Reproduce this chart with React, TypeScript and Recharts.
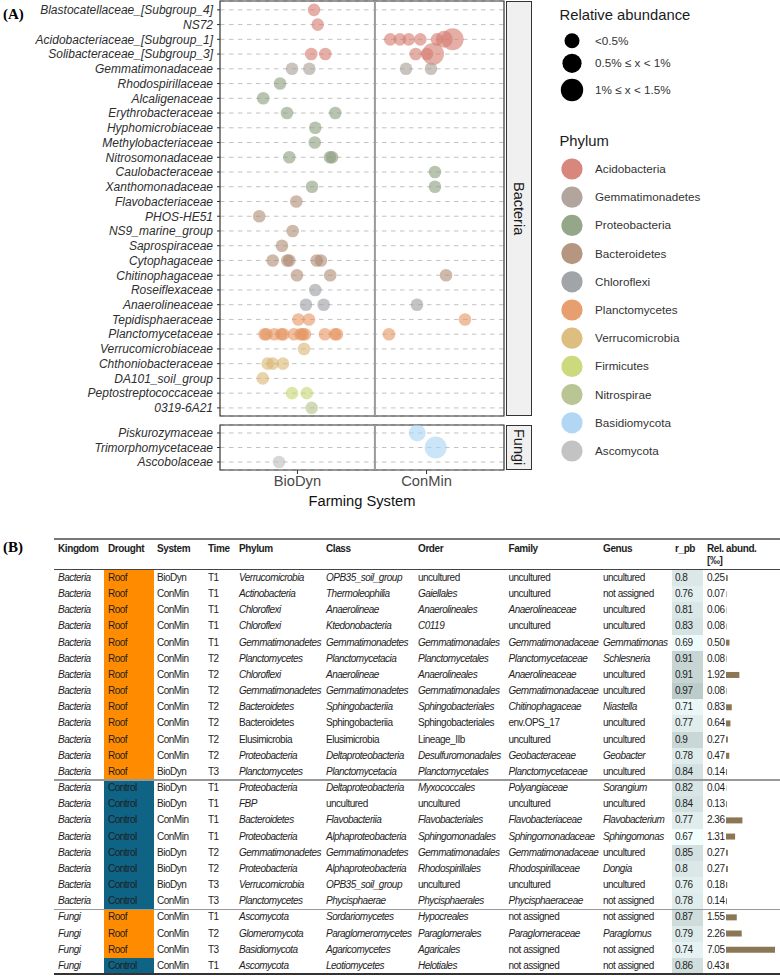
import React from 'react';
import {
  ScatterChart,
  Scatter,
  XAxis,
  YAxis,
  CartesianGrid,
  ReferenceLine,
  ReferenceArea,
  BarChart,
  Bar,
} from 'recharts';

// ---- panel A data ----
const phyla = ['Acidobacteria', 'Gemmatimonadetes', 'Proteobacteria', 'Bacteroidetes', 'Chloroflexi', 'Planctomycetes', 'Verrucomicrobia', 'Firmicutes', 'Nitrospirae', 'Basidiomycota', 'Ascomycota'];
const phylumColors = ['#d47a6e', '#a89b93', '#8a9d7c', '#ad8b73', '#979ba1', '#e4955f', '#d9b672', '#c7d66f', '#b2bf8a', '#a8d3f3', '#bdbdbd'];
const sizeLabels = ['<0.5%', '0.5% \u2264 x < 1%', '1% \u2264 x < 1.5%'];
const systems = ['BioDyn', 'ConMin'];

const bacteriaFamilies = [
  'Blastocatellaceae_[Subgroup_4]', 'NS72', 'Acidobacteriaceae_[Subgroup_1]', 'Solibacteraceae_[Subgroup_3]',
  'Gemmatimonadaceae', 'Rhodospirillaceae', 'Alcaligenaceae', 'Erythrobacteraceae', 'Hyphomicrobiaceae',
  'Methylobacteriaceae', 'Nitrosomonadaceae', 'Caulobacteraceae', 'Xanthomonadaceae', 'Flavobacteriaceae',
  'PHOS-HE51', 'NS9_marine_group', 'Saprospiraceae', 'Cytophagaceae', 'Chitinophagaceae', 'Roseiflexaceae',
  'Anaerolineaceae', 'Tepidisphaeraceae', 'Planctomycetaceae', 'Verrucomicrobiaceae', 'Chthoniobacteraceae',
  'DA101_soil_group', 'Peptostreptococcaceae', '0319-6A21',
];
const bacteriaPhylum = [0, 0, 0, 0, 1, 2, 2, 2, 2, 2, 2, 2, 2, 3, 3, 3, 3, 3, 3, 4, 4, 5, 5, 6, 6, 6, 7, 8];
// jittered position on the farming-system axis (1 = BioDyn, 2 = ConMin)
const bacteriaX = [
  [1.128], [1.157], [1.719, 1.794, 1.862, 1.952, 2.081, 2.137, 2.202], [1.107, 1.216, 1.916, 2.003, 2.05],
  [0.958, 1.092, 1.841, 2.034], [0.865], [0.735], [0.919, 1.293], [1.138], [1.134], [0.937, 1.252, 1.268],
  [2.065], [1.113, 2.065], [0.991], [0.704], [0.963], [0.88], [0.808, 0.921, 0.937, 1.149, 1.182],
  [0.996, 1.254, 2.151], [1.138], [1.066, 1.203, 1.926], [1.007, 1.089, 2.298],
  [0.745, 0.76, 0.821, 0.875, 0.89, 0.973, 1.025, 1.041, 1.058, 1.213, 1.291, 1.306, 1.709],
  [1.051], [0.769, 0.808, 0.888], [0.731], [0.958, 1.072], [1.11],
];
// abundance class: 0 <0.5%, 1 0.5-1%, 2 1-1.5%
const bacteriaSize = [
  [0], [0], [0, 0, 0, 0, 0, 1, 2], [0, 0, 0, 0, 2],
  [0, 0, 0, 0], [0], [0], [0, 0], [0], [0], [0, 0, 0],
  [0], [0, 0], [0], [0], [0], [0], [0, 0, 0, 0, 0],
  [0, 0, 0], [0], [0, 0, 0], [0, 0, 0],
  [0, 0, 0, 0, 0, 0, 0, 0, 0, 0, 0, 0, 0],
  [0], [0, 0, 0], [0], [0, 0], [0],
];

const fungiFamilies = ['Piskurozymaceae', 'Trimorphomycetaceae', 'Ascobolaceae'];
const fungiPhylum = [9, 9, 10];
const fungiX = [[1.928], [2.071], [0.857]];
const fungiSize = [[1], [2], [0]];

// ---- panel B data ----
const kingdom = ['Bacteria', 'Bacteria', 'Bacteria', 'Bacteria', 'Bacteria', 'Bacteria', 'Bacteria', 'Bacteria', 'Bacteria', 'Bacteria', 'Bacteria', 'Bacteria', 'Bacteria', 'Bacteria', 'Bacteria', 'Bacteria', 'Bacteria', 'Bacteria', 'Bacteria', 'Bacteria', 'Bacteria', 'Fungi', 'Fungi', 'Fungi', 'Fungi'];
const drought = ['Roof', 'Roof', 'Roof', 'Roof', 'Roof', 'Roof', 'Roof', 'Roof', 'Roof', 'Roof', 'Roof', 'Roof', 'Roof', 'Control', 'Control', 'Control', 'Control', 'Control', 'Control', 'Control', 'Control', 'Roof', 'Roof', 'Roof', 'Control'];
const system = ['BioDyn', 'ConMin', 'ConMin', 'ConMin', 'ConMin', 'ConMin', 'ConMin', 'ConMin', 'ConMin', 'ConMin', 'ConMin', 'ConMin', 'BioDyn', 'BioDyn', 'BioDyn', 'ConMin', 'ConMin', 'BioDyn', 'BioDyn', 'BioDyn', 'ConMin', 'ConMin', 'ConMin', 'ConMin', 'ConMin'];
const time = ['T1', 'T1', 'T1', 'T1', 'T1', 'T2', 'T2', 'T2', 'T2', 'T2', 'T2', 'T2', 'T3', 'T1', 'T1', 'T1', 'T1', 'T2', 'T2', 'T3', 'T3', 'T1', 'T2', 'T3', 'T1'];
const phylum = ['Verrucomicrobia', 'Actinobacteria', 'Chloroflexi', 'Chloroflexi', 'Gemmatimonadetes', 'Planctomycetes', 'Chloroflexi', 'Gemmatimonadetes', 'Bacteroidetes', 'Bacteroidetes', 'Elusimicrobia', 'Proteobacteria', 'Planctomycetes', 'Proteobacteria', 'FBP', 'Bacteroidetes', 'Proteobacteria', 'Gemmatimonadetes', 'Proteobacteria', 'Verrucomicrobia', 'Planctomycetes', 'Ascomycota', 'Glomeromycota', 'Basidiomycota', 'Ascomycota'];
const taxClass = ['OPB35_soil_group', 'Thermoleophilia', 'Anaerolineae', 'Ktedonobacteria', 'Gemmatimonadetes', 'Planctomycetacia', 'Anaerolineae', 'Gemmatimonadetes', 'Sphingobacteriia', 'Sphingobacteriia', 'Elusimicrobia', 'Deltaproteobacteria', 'Planctomycetacia', 'Deltaproteobacteria', 'uncultured', 'Flavobacteriia', 'Alphaproteobacteria', 'Gemmatimonadetes', 'Alphaproteobacteria', 'OPB35_soil_group', 'Phycisphaerae', 'Sordariomycetes', 'Paraglomeromycetes', 'Agaricomycetes', 'Leotiomycetes'];
const order = ['uncultured', 'Gaiellales', 'Anaerolineales', 'C0119', 'Gemmatimonadales', 'Planctomycetales', 'Anaerolineales', 'Gemmatimonadales', 'Sphingobacteriales', 'Sphingobacteriales', 'Lineage_IIb', 'Desulfuromonadales', 'Planctomycetales', 'Myxococcales', 'uncultured', 'Flavobacteriales', 'Sphingomonadales', 'Gemmatimonadales', 'Rhodospirillales', 'uncultured', 'Phycisphaerales', 'Hypocreales', 'Paraglomerales', 'Agaricales', 'Helotiales'];
const family = ['uncultured', 'uncultured', 'Anaerolineaceae', 'uncultured', 'Gemmatimonadaceae', 'Planctomycetaceae', 'Anaerolineaceae', 'Gemmatimonadaceae', 'Chitinophagaceae', 'env.OPS_17', 'uncultured', 'Geobacteraceae', 'Planctomycetaceae', 'Polyangiaceae', 'uncultured', 'Flavobacteriaceae', 'Sphingomonadaceae', 'Gemmatimonadaceae', 'Rhodospirillaceae', 'uncultured', 'Phycisphaeraceae', 'not assigned', 'Paraglomeraceae', 'not assigned', 'not assigned'];
const genus = ['uncultured', 'not assigned', 'uncultured', 'uncultured', 'Gemmatimonas', 'Schlesneria', 'uncultured', 'uncultured', 'Niastella', 'uncultured', 'uncultured', 'Geobacter', 'uncultured', 'Sorangium', 'uncultured', 'Flavobacterium', 'Sphingomonas', 'uncultured', 'Dongia', 'uncultured', 'not assigned', 'not assigned', 'Paraglomus', 'not assigned', 'not assigned'];
const rpb = [0.8, 0.76, 0.81, 0.83, 0.69, 0.91, 0.91, 0.97, 0.71, 0.77, 0.9, 0.78, 0.84, 0.82, 0.84, 0.77, 0.67, 0.85, 0.8, 0.76, 0.78, 0.87, 0.79, 0.74, 0.86];
const relAbund = [0.25, 0.07, 0.06, 0.08, 0.5, 0.08, 1.92, 0.08, 0.83, 0.64, 0.27, 0.47, 0.14, 0.04, 0.13, 2.36, 1.31, 0.27, 0.27, 0.18, 0.14, 1.55, 2.26, 7.05, 0.43];
const plainRows = [9, 10];

const headers = ['Kingdom', 'Drought', 'System', 'Time', 'Phylum', 'Class', 'Order', 'Family', 'Genus', 'r_pb', 'Rel. abund.'];
const colX = [58, 108, 157, 208, 239, 326, 418, 508.5, 603, 675, 707];

const radii = [6.3, 8.5, 11];
const legendRadii = [7.5, 9.6, 11.2];

const toPoints = (xs: number[][], sizes: number[][], ph: number[]) =>
  xs.flatMap((row, i) => row.map((x, j) => ({ x, y: i, s: sizes[i][j], p: ph[i] })));

const bacteriaPoints = toPoints(bacteriaX, bacteriaSize, bacteriaPhylum);
const fungiPoints = toPoints(fungiX, fungiSize, fungiPhylum);

const Dot = (props: any) => {
  const { cx, cy, payload } = props;
  return <circle cx={cx} cy={cy} r={radii[payload.s]} fill={phylumColors[payload.p]} fillOpacity={0.6} />;
};

const familyTick = (names: string[]) => (props: any) => (
  <text x={props.x} y={props.y} dy={4.3} textAnchor="end" fontSize={12} fontStyle="italic" fill="#2e2e2e">
    {names[props.payload.value]}
  </text>
);

const rpbColor = (v: number) => {
  const t = Math.max(0, Math.min(1, (v - 0.67) / 0.3));
  const lo = [242, 254, 253];
  const hi = [188, 204, 203];
  const c = lo.map((l, k) => Math.round(l + (hi[k] - l) * t));
  return `rgb(${c[0]},${c[1]},${c[2]})`;
};

const isPlain = (txt: string) => txt === 'uncultured' || txt === 'not assigned' || txt === 'env.OPS_17';

const ROW_TOP = 570;
const ROW_H = 16.16;
const cellFont = { fontSize: 10, letterSpacing: -0.5, color: '#1e1e1e' };

const Strip = ({ top, height, label }: { top: number; height: number; label: string }) => (
  <div
    style={{
      position: 'absolute', left: 506, top, width: 26, height, boxSizing: 'border-box',
      background: '#f0f0f0', border: '1.2px solid #333', display: 'flex', alignItems: 'center',
      justifyContent: 'center', writingMode: 'vertical-rl', fontSize: 14.5, color: '#1a1a1a',
    }}
  >
    {label}
  </div>
);

export default function App() {
  const tableCols = [kingdom, drought, system, time, phylum, taxClass, order, family, genus];
  const barData = relAbund.map((v, i) => ({ i, v }));

  return (
    <div style={{ position: 'absolute', left: 0, top: 0, width: 780, height: 976, background: '#fff', fontFamily: '"Liberation Sans", Arial, sans-serif', overflow: 'hidden' }}>
      <div style={{ position: 'absolute', left: 3, top: 6, fontFamily: '"Liberation Serif", "Times New Roman", serif', fontWeight: 'bold', fontSize: 15 }}>(A)</div>

      {/* Bacteria facet */}
      <div style={{ position: 'absolute', left: 0, top: 0 }}>
        <ScatterChart width={520} height={418} margin={{ top: 1, right: 16, bottom: 2, left: 0 }}>
          <CartesianGrid vertical={false} stroke="#c2c2c2" strokeDasharray="4.5 4.5" />
          <XAxis type="number" dataKey="x" domain={[0.4, 2.6]} allowDataOverflow hide />
          <YAxis
            type="number" dataKey="y" domain={[-0.6, 27.55]} allowDataOverflow reversed
            ticks={bacteriaFamilies.map((_, i) => i)} interval={0} width={220}
            axisLine={false} tickSize={3} tickMargin={4} tickLine={{ stroke: '#333' }}
            tick={familyTick(bacteriaFamilies)}
          />
          <ReferenceLine x={1.6} stroke="#9a9a9a" strokeWidth={2} />
          <Scatter data={bacteriaPoints} shape={Dot} isAnimationActive={false} />
          <ReferenceArea x1={0.4} x2={2.6} y1={-0.6} y2={27.55} fill="none" stroke="#333" strokeWidth={1.2} />
        </ScatterChart>
      </div>
      <Strip top={1} height={415} label="Bacteria" />

      {/* Fungi facet */}
      <div style={{ position: 'absolute', left: 0, top: 418 }}>
        <ScatterChart width={520} height={82} margin={{ top: 7, right: 16, bottom: 0, left: 0 }}>
          <CartesianGrid vertical={false} stroke="#c2c2c2" strokeDasharray="4.5 4.5" />
          <XAxis
            type="number" dataKey="x" domain={[0.4, 2.6]} allowDataOverflow ticks={[1, 2]} interval={0}
            tickFormatter={(v: number) => systems[v - 1]} height={30} axisLine={false}
            tickSize={4} tickLine={{ stroke: '#333' }} tick={{ fontSize: 14.7, fill: '#4a4a4a' }}
          />
          <YAxis
            type="number" dataKey="y" domain={[-0.55, 2.55]} allowDataOverflow reversed
            ticks={fungiFamilies.map((_, i) => i)} interval={0} width={220}
            axisLine={false} tickSize={3} tickMargin={4} tickLine={{ stroke: '#333' }}
            tick={familyTick(fungiFamilies)}
          />
          <ReferenceLine x={1.6} stroke="#9a9a9a" strokeWidth={2} />
          <Scatter data={fungiPoints} shape={Dot} isAnimationActive={false} />
          <ReferenceArea x1={0.4} x2={2.6} y1={-0.55} y2={2.55} fill="none" stroke="#333" strokeWidth={1.2} />
        </ScatterChart>
      </div>
      <Strip top={425} height={45} label="Fungi" />
      <div style={{ position: 'absolute', left: 220, width: 284, top: 493, textAlign: 'center', fontSize: 14.7, color: '#111' }}>Farming System</div>

      {/* legends */}
      <svg width={240} height={470} style={{ position: 'absolute', left: 540, top: 0 }}>
        <text x={19.5} y={20} fontSize={14.8} fill="#1a1a1a">Relative abundance</text>
        {sizeLabels.map((lab, i) => (
          <g key={lab}>
            <circle cx={32} cy={[40.7, 63.3, 90][i]} r={legendRadii[i]} fill="#000" />
            <text x={55} y={[40.7, 63.3, 90][i] + 4} fontSize={11.7} fill="#333">{lab}</text>
          </g>
        ))}
        <text x={19.5} y={146} fontSize={14.8} fill="#1a1a1a">Phylum</text>
        {phyla.map((ph, i) => (
          <g key={ph}>
            <circle cx={32} cy={169 + i * 28.2} r={10.6} fill={phylumColors[i]} fillOpacity={0.9} />
            <text x={55} y={169 + i * 28.2 + 4} fontSize={11.7} fill="#333">{ph}</text>
          </g>
        ))}
      </svg>

      {/* panel B: table */}
      <div style={{ position: 'absolute', left: 3, top: 539, fontFamily: '"Liberation Serif", "Times New Roman", serif', fontWeight: 'bold', fontSize: 15 }}>(B)</div>
      <div style={{ position: 'absolute', left: 54, top: 538, width: 726, height: 2, background: '#777' }} />
      {headers.map((h, c) => (
        <div key={h} style={{ position: 'absolute', left: colX[c], top: 543, fontSize: 10, fontWeight: 'bold', letterSpacing: -0.4, color: '#1e1e1e', lineHeight: '12px' }}>
          {h}
          {c === 10 ? <><br />[‰]</> : null}
        </div>
      ))}
      <div style={{ position: 'absolute', left: 54, top: 568.5, width: 726, height: 1.5, background: '#444' }} />

      {kingdom.map((_, i) => {
        const top = ROW_TOP + i * ROW_H;
        return (
          <React.Fragment key={i}>
            <div style={{ position: 'absolute', left: 104, top, width: 50, height: ROW_H + 0.5, background: drought[i] === 'Roof' ? '#ff8c00' : '#0f6385' }} />
            <div style={{ position: 'absolute', left: 672, top, width: 31, height: ROW_H + 0.5, background: rpbColor(rpb[i]) }} />
            {tableCols.map((col, c) => {
              const txt = col[i];
              const italic = c === 0 || (c >= 4 && !plainRows.includes(i) && !isPlain(txt));
              return (
                <div key={c} style={{ position: 'absolute', left: colX[c], top, height: ROW_H, lineHeight: `${ROW_H}px`, ...cellFont, fontStyle: italic ? 'italic' : 'normal', whiteSpace: 'nowrap' }}>
                  {txt}
                </div>
              );
            })}
            <div style={{ position: 'absolute', left: colX[9], top, lineHeight: `${ROW_H}px`, ...cellFont }}>{String(rpb[i])}</div>
            <div style={{ position: 'absolute', left: colX[10], top, lineHeight: `${ROW_H}px`, ...cellFont }}>{relAbund[i].toFixed(2)}</div>
          </React.Fragment>
        );
      })}

      <div style={{ position: 'absolute', left: 726, top: ROW_TOP }}>
        <BarChart width={49} height={ROW_H * 25} data={barData} layout="vertical" margin={{ top: 0, right: 0, bottom: 0, left: 0 }}>
          <XAxis type="number" domain={[0, 7.05]} allowDataOverflow hide />
          <YAxis type="category" dataKey="i" hide />
          <Bar dataKey="v" fill="#8b7656" barSize={6} isAnimationActive={false} />
        </BarChart>
      </div>

      <div style={{ position: 'absolute', left: 54, top: ROW_TOP + 13 * ROW_H - 0.8, width: 726, height: 1.6, background: '#999' }} />
      <div style={{ position: 'absolute', left: 54, top: ROW_TOP + 21 * ROW_H - 0.8, width: 726, height: 1.6, background: '#999' }} />
      <div style={{ position: 'absolute', left: 54, top: ROW_TOP + 25 * ROW_H - 1, width: 726, height: 2, background: '#333' }} />
    </div>
  );
}
